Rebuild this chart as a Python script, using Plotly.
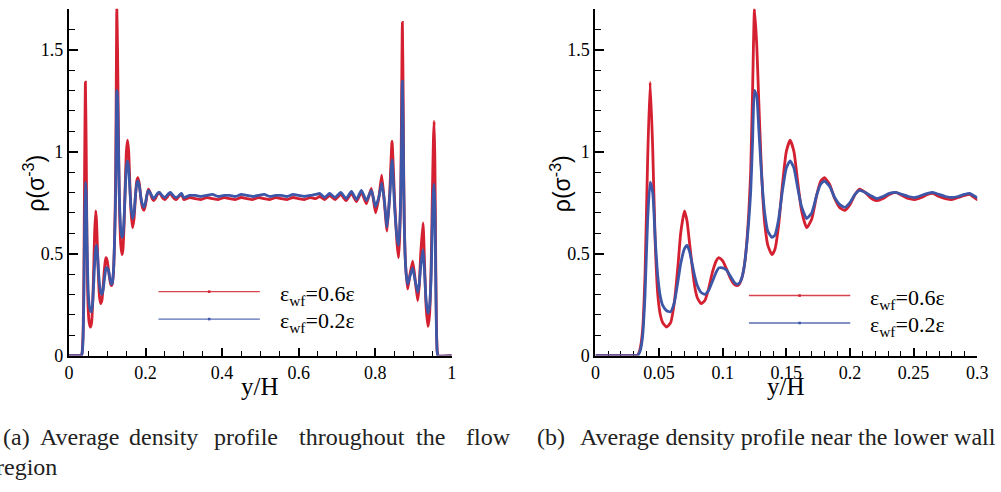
import plotly.graph_objects as go

# ---------------- data ----------------
y_over_H = [
    0.000, 0.030, 0.033, 0.035, 0.037, 0.039, 0.041, 0.043, 0.045, 0.047,
    0.049, 0.051, 0.053, 0.056, 0.059, 0.062, 0.065, 0.067, 0.070, 0.072,
    0.074, 0.076, 0.078, 0.080, 0.083, 0.086, 0.089, 0.092, 0.095, 0.097,
    0.100, 0.103, 0.106, 0.109, 0.111, 0.113, 0.115, 0.117, 0.119, 0.1205,
    0.122, 0.1235, 0.125, 0.1268, 0.1283, 0.130, 0.1315, 0.133, 0.1355, 0.1387,
    0.141, 0.144, 0.147, 0.150, 0.153, 0.156, 0.159, 0.162, 0.166, 0.170,
    0.174, 0.177, 0.180, 0.184, 0.188, 0.192, 0.196, 0.200, 0.204, 0.2075,
    0.212, 0.216, 0.221, 0.226, 0.231, 0.236, 0.241, 0.246, 0.251, 0.256,
    0.261, 0.265, 0.270, 0.275, 0.280, 0.285, 0.290, 0.294, 0.300,
    0.315, 0.330, 0.345, 0.360, 0.375, 0.390, 0.405, 0.420, 0.435, 0.450,
    0.465, 0.480, 0.495, 0.510, 0.525, 0.540, 0.555, 0.570, 0.585, 0.600,
    0.615, 0.630, 0.645, 0.655, 0.668, 0.681, 0.695, 0.710, 0.724, 0.738,
    0.751, 0.764, 0.777,
    0.790, 0.801, 0.810, 0.817, 0.824, 0.831, 0.838, 0.844, 0.851, 0.857,
    0.861, 0.864, 0.8668, 0.869, 0.871, 0.873, 0.8745, 0.876, 0.878, 0.881,
    0.885, 0.891, 0.898, 0.904, 0.911, 0.915, 0.919, 0.925, 0.929, 0.933,
    0.938, 0.942, 0.946, 0.949, 0.952, 0.954, 0.956, 0.958, 0.960, 0.962,
    0.964, 1.000,
]

rho_eps06 = [
    0.00, 0.00, 0.00, 0.03, 0.12, 0.40, 0.95, 1.34, 1.02, 0.55,
    0.30, 0.20, 0.16, 0.14, 0.16, 0.26, 0.45, 0.60, 0.71, 0.66,
    0.55, 0.44, 0.34, 0.285, 0.255, 0.27, 0.33, 0.41, 0.465, 0.48,
    0.465, 0.425, 0.38, 0.35, 0.343, 0.35, 0.38, 0.44, 0.56, 0.70,
    0.90, 1.30, 1.70, 1.52, 1.26, 0.98, 0.78, 0.65, 0.54, 0.495,
    0.52, 0.64, 0.84, 1.00, 1.056, 1.00, 0.85, 0.71, 0.627, 0.67,
    0.79, 0.855, 0.872, 0.84, 0.77, 0.725, 0.712, 0.74, 0.79, 0.816,
    0.80, 0.775, 0.76, 0.77, 0.79, 0.80, 0.785, 0.77, 0.765, 0.775,
    0.79, 0.795, 0.78, 0.77, 0.765, 0.775, 0.785, 0.79, 0.765,
    0.775, 0.770, 0.765, 0.775, 0.770, 0.765, 0.775, 0.770, 0.765, 0.775,
    0.770, 0.765, 0.775, 0.770, 0.765, 0.775, 0.770, 0.765, 0.775, 0.770,
    0.765, 0.775, 0.770, 0.780, 0.765, 0.785, 0.765, 0.790, 0.760, 0.795,
    0.755, 0.800, 0.745,
    0.82, 0.70, 0.78, 0.885, 0.75, 0.61, 0.80, 1.05, 0.75, 0.55,
    0.48, 0.58, 0.80, 1.25, 1.633, 1.30, 0.90, 0.66, 0.50, 0.40,
    0.327, 0.40, 0.463, 0.38, 0.27, 0.34, 0.50, 0.65, 0.45, 0.24,
    0.143, 0.20, 0.42, 0.75, 1.05, 1.149, 0.95, 0.50, 0.15, 0.02,
    0.00, 0.00,
]

rho_eps02 = [
    0.00, 0.00, 0.00, 0.02, 0.09, 0.30, 0.66, 0.85, 0.80, 0.57,
    0.39, 0.29, 0.245, 0.22, 0.215, 0.26, 0.37, 0.45, 0.525, 0.54,
    0.51, 0.45, 0.39, 0.345, 0.31, 0.30, 0.32, 0.365, 0.41, 0.43,
    0.43, 0.42, 0.39, 0.36, 0.35, 0.355, 0.38, 0.44, 0.55, 0.66,
    0.80, 1.05, 1.30, 1.27, 1.12, 0.94, 0.80, 0.70, 0.61, 0.58,
    0.59, 0.67, 0.81, 0.92, 0.955, 0.92, 0.82, 0.73, 0.672, 0.70,
    0.79, 0.84, 0.856, 0.83, 0.775, 0.74, 0.727, 0.75, 0.79, 0.81,
    0.80, 0.785, 0.77, 0.78, 0.795, 0.80, 0.79, 0.78, 0.775, 0.785,
    0.795, 0.80, 0.79, 0.78, 0.775, 0.78, 0.79, 0.795, 0.775,
    0.785, 0.785, 0.780, 0.785, 0.790, 0.780, 0.785, 0.785, 0.780, 0.790,
    0.785, 0.780, 0.785, 0.790, 0.780, 0.785, 0.785, 0.780, 0.790, 0.785,
    0.780, 0.785, 0.790, 0.795, 0.775, 0.795, 0.775, 0.800, 0.770, 0.805,
    0.765, 0.810, 0.760,
    0.81, 0.73, 0.78, 0.846, 0.76, 0.63, 0.78, 0.96, 0.72, 0.58,
    0.54, 0.62, 0.78, 1.05, 1.345, 1.12, 0.85, 0.64, 0.50, 0.40,
    0.35, 0.39, 0.43, 0.37, 0.31, 0.35, 0.44, 0.52, 0.41, 0.27,
    0.207, 0.24, 0.38, 0.62, 0.80, 0.84, 0.72, 0.40, 0.12, 0.02,
    0.00, 0.00,
]

series_names = ["ε<sub>wf</sub>=0.6ε", "ε<sub>wf</sub>=0.2ε"]
series_colors = ["#d42030", "#3c56a8"]
captions = ["(a)", "Average", "density", "profile", "throughout", "the", "flow", "region"]
caption_b = ["(b)", "Average density profile near the lower wall"]

# ---------------- layout helpers ----------------
W, H = 1001, 492
def fx(x):
    return x / W
def fy(y):
    return 1 - y / H

SERIF = "Liberation Serif"
SANS = "Liberation Sans"

fig = go.Figure()
series = [rho_eps06, rho_eps02]
for axn in ["", "2"]:
    for vals, col in zip(series, series_colors):
        fig.add_trace(go.Scatter(
            x=y_over_H, y=vals, mode="lines",
            line=dict(color=col, width=2.8, shape="spline", smoothing=0.5),
            xaxis="x" + axn, yaxis="y" + axn, showlegend=False,
            hoverinfo="skip",
        ))

def xaxis_style(dom, rng, dt, mdt):
    return dict(
        domain=dom, range=rng, dtick=dt, tick0=0,
        showline=True, linecolor="black", linewidth=2, mirror=False,
        showgrid=False, zeroline=False,
        ticks="inside", ticklen=8, tickwidth=1.5, tickcolor="black",
        minor=dict(ticks="inside", ticklen=5, tickwidth=1.2, tickcolor="black", dtick=mdt, tick0=0),
        tickfont=dict(family=SERIF, size=18, color="black"),
        layer="below traces", fixedrange=True,
    )

def yaxis_style(dom, anchor):
    return dict(
        domain=dom, range=[0, 1.7], dtick=0.5, tick0=0, anchor=anchor,
        showline=True, linecolor="black", linewidth=2, mirror=False,
        showgrid=False, zeroline=False,
        ticks="inside", ticklen=9, tickwidth=1.5, tickcolor="black",
        minor=dict(ticks="inside", ticklen=6, tickwidth=1.2, tickcolor="black", dtick=0.1, tick0=0),
        tickfont=dict(family=SERIF, size=18, color="black"),
        layer="below traces", fixedrange=True,
    )

ydom = [fy(363), fy(9)]
fig.update_layout(
    width=W, height=H,
    margin=dict(l=0, r=0, t=0, b=0, pad=0),
    paper_bgcolor="white", plot_bgcolor="white",
    xaxis=dict(**xaxis_style([fx(65), fx(454)], [0, 1], 0.2, 0.05), anchor="y"),
    yaxis=yaxis_style(ydom, "x"),
    xaxis2=dict(**xaxis_style([fx(600), fx(988)], [0, 0.3], 0.05, 0.01), anchor="y2"),
    yaxis2=yaxis_style(ydom, "x2"),
)

ann = []
shapes = []
# axis titles
for cx, ylx in [(259.5, 30), (794, 565)]:
    ann.append(dict(x=fx(cx), y=fy(395), xref="paper", yref="paper", text="y/H",
                    showarrow=False, xanchor="center", yanchor="middle",
                    font=dict(family=SERIF, size=25, color="black")))
    ann.append(dict(x=fx(ylx), y=fy(187), xref="paper", yref="paper",
                    text="ρ(σ<sup>-3</sup>)", textangle=-90,
                    showarrow=False, xanchor="center", yanchor="middle",
                    font=dict(family=SANS, size=23, color="black")))

# legends (manual, long sample lines)
for (x0, x1, ytop, tx) in [(156, 259, 297.7, 277), (756, 859, 301.7, 877)]:
    for i, (name, col) in enumerate(zip(series_names, series_colors)):
        yy = ytop + 28 * i
        shapes.append(dict(type="line", xref="paper", yref="paper",
                           x0=fx(x0), x1=fx(x1), y0=fy(yy), y1=fy(yy),
                           line=dict(color=col, width=1.4), opacity=0.85))
        xm = (x0 + x1) / 2
        shapes.append(dict(type="rect", xref="paper", yref="paper",
                           x0=fx(xm - 1.3), x1=fx(xm + 1.3), y0=fy(yy - 1.3), y1=fy(yy + 1.3),
                           line=dict(width=0), fillcolor=col))
        ann.append(dict(x=fx(tx), y=fy(yy + 3), xref="paper", yref="paper", text=name,
                        showarrow=False, xanchor="left", yanchor="middle",
                        font=dict(family=SERIF, size=22, color="black")))

# captions
cap_font = dict(family=SERIF, size=24, color="#222222")
cap_centers = [12, 76.5, 161.5, 245, 352.5, 432.5, 491.5]
for word, cx in zip(captions[:7], cap_centers):
    ann.append(dict(x=fx(cx), y=fy(446), xref="paper", yref="paper", text=word,
                    showarrow=False, xanchor="center", yanchor="middle", font=cap_font))
ann.append(dict(x=fx(55), y=fy(477), xref="paper", yref="paper", text=captions[7],
                showarrow=False, xanchor="right", yanchor="middle", font=cap_font))
ann.append(dict(x=fx(539), y=fy(446), xref="paper", yref="paper", text=caption_b[0],
                showarrow=False, xanchor="left", yanchor="middle", font=cap_font))
ann.append(dict(x=fx(582), y=fy(446), xref="paper", yref="paper", text=caption_b[1],
                showarrow=False, xanchor="left", yanchor="middle", font=cap_font))

fig.update_layout(annotations=ann, shapes=shapes)
fig.write_html("out.html", config={"displayModeBar": False})
